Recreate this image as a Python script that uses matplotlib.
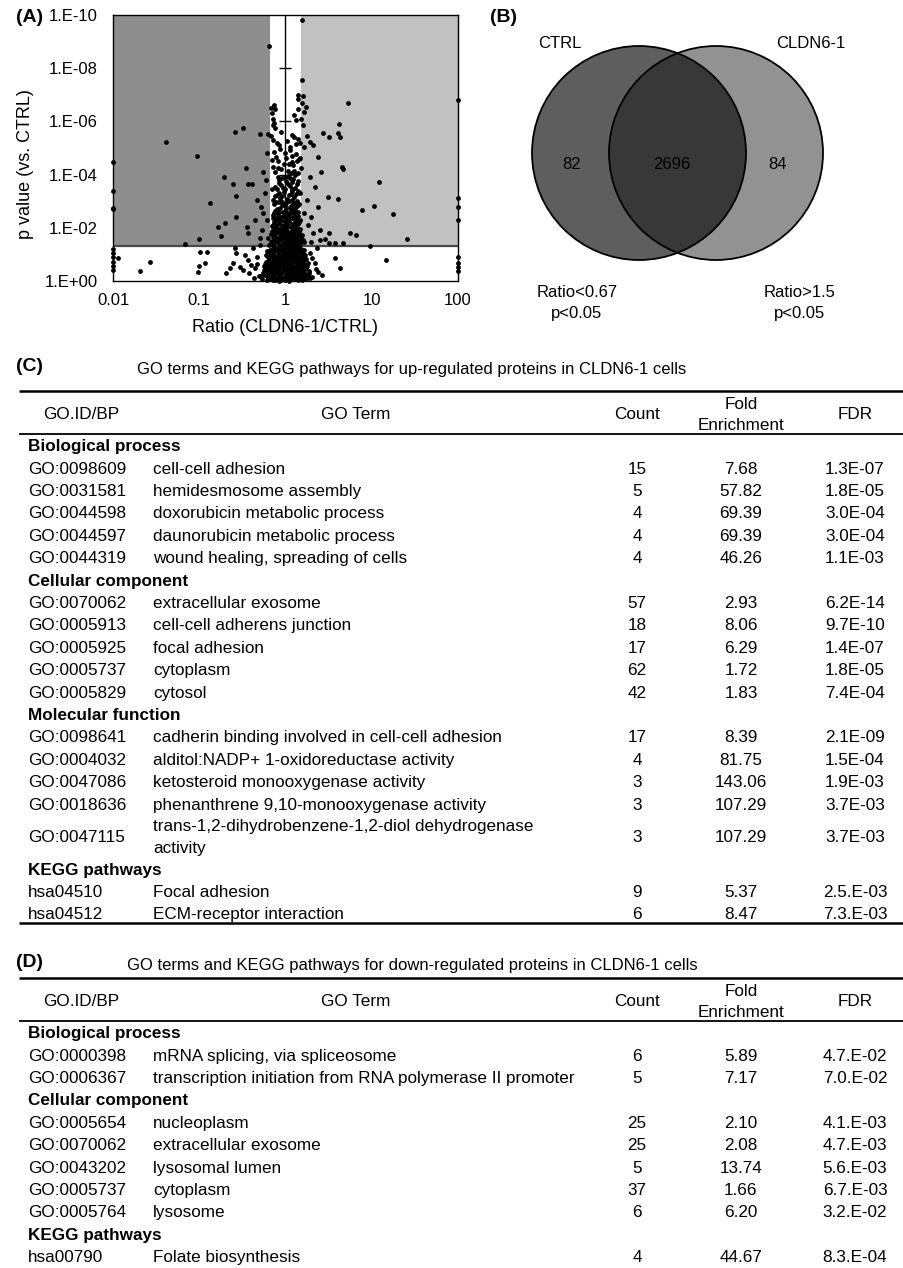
import numpy as np
import matplotlib
matplotlib.use('Agg')
import matplotlib.pyplot as plt
from matplotlib.patches import Circle
from matplotlib.ticker import NullLocator

plt.rcParams['font.family'] = ['Liberation Sans', 'DejaVu Sans']

# ---------------- Panel A data: (log10 ratio, -log10 p) ----------------
core_points = [
    (-0.27, 0.08), (-0.24, 0.21), (-0.22, 0.05), (-0.20, 0.33), (-0.18, 0.12), (-0.17, 0.45), (-0.15, 0.02),
    (-0.14, 0.27), (-0.12, 0.16), (-0.11, 0.52), (-0.09, 0.07), (-0.08, 0.38), (-0.06, 0.22), (-0.05, 0.61),
    (-0.03, 0.11), (-0.02, 0.44), (0.00, 0.03), (0.01, 0.29), (0.03, 0.14), (0.04, 0.56), (0.06, 0.06),
    (0.07, 0.35), (0.09, 0.19), (0.10, 0.48), (0.12, 0.09), (0.13, 0.31), (0.15, 0.02), (0.16, 0.41),
    (0.18, 0.17), (0.19, 0.58), (0.21, 0.07), (0.23, 0.26), (0.25, 0.13), (0.27, 0.37),
    (-0.25, 0.55), (-0.23, 0.72), (-0.21, 0.62), (-0.19, 0.88), (-0.16, 0.70), (-0.13, 0.83), (-0.10, 0.66),
    (-0.07, 0.92), (-0.04, 0.75), (-0.01, 0.86), (0.02, 0.68), (0.05, 0.95), (0.08, 0.73), (0.11, 0.84),
    (0.14, 0.63), (0.17, 0.90), (0.20, 0.76), (0.22, 0.64), (0.24, 0.81), (0.26, 0.69),
    (-0.20, 1.05), (-0.17, 1.18), (-0.14, 1.02), (-0.11, 1.25), (-0.08, 1.10), (-0.05, 1.21), (-0.02, 1.00),
    (0.01, 1.15), (0.04, 1.27), (0.07, 1.06), (0.10, 1.19), (0.13, 1.03), (0.16, 1.23), (0.19, 1.08),
    (0.21, 1.16), (-0.23, 0.97), (0.23, 0.99),
    (-0.26, 0.30), (-0.21, 0.18), (-0.16, 0.25), (-0.13, 0.40), (-0.10, 0.30), (-0.07, 0.15), (-0.04, 0.33),
    (-0.01, 0.20), (0.02, 0.50), (0.05, 0.25), (0.08, 0.12), (0.11, 0.28), (0.14, 0.45), (0.17, 0.10),
    (0.20, 0.35), (0.24, 0.47), (-0.18, 0.58), (-0.09, 0.50), (0.00, 0.60), (0.09, 0.58), (0.18, 0.50),
    (-0.14, 0.95), (-0.03, 0.97), (0.06, 0.82), (0.15, 0.78), (-0.06, 0.78), (0.12, 0.98), (-0.19, 0.40),
    (0.22, 0.40), (-0.08, 0.01), (0.04, 0.01), (0.13, 0.20), (-0.16, 0.10),
    (-0.25, 0.42), (-0.22, 0.30), (-0.19, 0.22), (-0.15, 0.36), (-0.12, 0.05), (-0.10, 0.43), (-0.07, 0.28),
    (-0.05, 0.04), (-0.03, 0.52), (0.00, 0.16), (0.02, 0.38), (0.05, 0.10), (0.07, 0.49), (0.10, 0.22),
    (0.12, 0.42), (0.14, 0.15), (0.16, 0.28), (0.19, 0.04), (0.21, 0.46), (0.23, 0.12), (0.26, 0.22),
    (-0.24, 0.65), (-0.20, 0.75), (-0.17, 0.84), (-0.15, 0.60), (-0.12, 0.72), (-0.09, 0.86), (-0.06, 0.64),
    (-0.03, 0.69), (0.00, 0.78), (0.03, 0.87), (0.06, 0.62), (0.09, 0.93), (0.12, 0.70), (0.15, 0.93),
    (0.18, 0.66), (0.21, 0.88), (0.25, 0.58), (-0.22, 1.12), (-0.18, 0.98), (-0.15, 1.12), (-0.12, 1.20),
    (-0.09, 0.99), (-0.06, 1.15), (-0.03, 1.26), (0.00, 1.07), (0.03, 1.05), (0.06, 1.20), (0.09, 1.03),
    (0.12, 1.26), (0.15, 1.10), (0.18, 1.22), (0.20, 0.97), (-0.28, 0.18), (0.28, 0.10), (-0.01, 0.40),
    (0.08, 0.33), (-0.11, 0.60), (0.17, 0.55), (-0.21, 0.50),
    (-0.22, 0.40), (-0.20, 0.12), (-0.18, 0.30), (-0.17, 0.65), (-0.14, 0.50), (-0.13, 0.10), (-0.11, 0.35),
    (-0.10, 0.80), (-0.08, 0.55), (-0.07, 0.45), (-0.05, 0.30), (-0.04, 0.10), (-0.02, 0.62), (-0.01, 0.05),
    (0.01, 0.50), (0.02, 0.22), (0.03, 0.75), (0.05, 0.42), (0.06, 0.18), (0.08, 0.62), (0.09, 0.40),
    (0.11, 0.12), (0.12, 0.55), (0.14, 0.32), (0.15, 0.70), (0.17, 0.25), (0.18, 0.40), (0.20, 0.15),
    (0.21, 0.60), (0.22, 0.28),
    (-0.20, 0.90), (-0.18, 1.15), (-0.16, 0.88), (-0.13, 1.08), (-0.11, 0.92), (-0.09, 1.18), (-0.07, 1.02),
    (-0.05, 0.88), (-0.03, 1.12), (-0.01, 0.95), (0.01, 1.22), (0.02, 0.92), (0.04, 1.10), (0.06, 0.98),
    (0.08, 1.15), (0.10, 0.90), (0.11, 1.08), (0.13, 1.18), (0.16, 1.02), (0.18, 0.88), (0.20, 1.12),
    (-0.19, 1.35), (-0.16, 1.52), (-0.13, 1.41), (-0.10, 1.63), (-0.07, 1.38), (-0.04, 1.55), (-0.01, 1.44),
    (0.02, 1.68), (0.05, 1.36), (0.08, 1.58), (0.11, 1.47), (0.14, 1.71), (0.17, 1.39), (0.20, 1.56),
    (-0.17, 1.78), (-0.14, 1.92), (-0.11, 1.84), (-0.08, 1.97), (-0.05, 1.75), (-0.02, 1.88), (0.01, 1.96),
    (0.04, 1.80), (0.07, 1.91), (0.10, 1.77), (0.13, 1.99), (0.16, 1.86), (0.19, 1.74), (-0.20, 1.62),
    (0.22, 1.45), (-0.06, 1.67), (0.03, 1.50), (0.12, 1.62), (-0.15, 1.66), (0.00, 1.30), (0.09, 1.33),
    (-0.17, 1.45), (-0.14, 1.30), (-0.12, 1.55), (-0.09, 1.45), (-0.06, 1.32), (-0.03, 1.64), (0.00, 1.52),
    (0.03, 1.38), (0.06, 1.60), (0.09, 1.45), (0.12, 1.35), (0.15, 1.55), (0.18, 1.64), (-0.16, 1.88),
    (-0.13, 1.74), (-0.10, 1.95), (-0.07, 1.81), (-0.04, 1.95), (-0.01, 1.78), (0.02, 1.88), (0.05, 1.72),
    (0.08, 1.85), (0.11, 1.93), (0.14, 1.82), (0.17, 1.95),
    (-0.15, 1.40), (-0.12, 1.70), (-0.09, 1.55), (-0.06, 1.85), (-0.03, 1.40), (-0.01, 1.62), (0.01, 1.82),
    (0.04, 1.58), (0.06, 1.48), (0.08, 1.72), (0.10, 1.60), (0.13, 1.50), (0.15, 1.90), (0.18, 1.50),
    (-0.16, 2.05), (-0.13, 2.21), (-0.10, 2.12), (-0.07, 2.34), (-0.04, 2.08), (-0.01, 2.27), (0.02, 2.16),
    (0.05, 2.39), (0.08, 2.03), (0.11, 2.25), (0.14, 2.14), (0.17, 2.31), (-0.15, 2.47), (-0.12, 2.62),
    (-0.09, 2.51), (-0.06, 2.74), (-0.03, 2.58), (0.00, 2.83), (0.03, 2.49), (0.06, 2.66), (0.09, 2.55),
    (0.12, 2.79), (0.15, 2.60), (-0.13, 2.90), (-0.08, 2.97), (-0.02, 2.92), (0.04, 2.99), (0.10, 2.93),
    (0.16, 2.88), (-0.05, 2.42), (0.07, 2.86), (0.13, 2.45), (-0.11, 2.37), (0.01, 2.70),
    (-0.14, 2.12), (-0.11, 2.28), (-0.08, 2.18), (-0.05, 2.30), (-0.02, 2.10), (0.01, 2.38), (0.04, 2.26),
    (0.07, 2.13), (0.10, 2.40), (0.13, 2.30), (0.16, 2.20), (-0.13, 2.55), (-0.10, 2.70), (-0.07, 2.60),
    (-0.04, 2.84), (-0.01, 2.64), (0.02, 2.57), (0.05, 2.80), (0.08, 2.71), (0.11, 2.62), (0.14, 2.87),
    (-0.11, 2.98), (-0.05, 3.02), (0.01, 2.95), (0.07, 3.05), (0.13, 3.00),
    (-0.12, 2.02), (-0.09, 2.35), (-0.06, 2.20), (-0.03, 2.45), (0.00, 2.25), (0.03, 2.05), (0.05, 2.55),
    (0.08, 2.35), (0.11, 2.10), (0.12, 2.50), (-0.14, 2.35), (0.15, 2.45),
    (-0.14, 3.05), (-0.10, 3.22), (-0.06, 3.11), (-0.02, 3.35), (0.02, 3.08), (0.06, 3.28), (0.10, 3.15),
    (0.14, 3.40), (-0.12, 3.55), (-0.07, 3.68), (-0.03, 3.49), (0.01, 3.75), (0.05, 3.58), (0.09, 3.82),
    (0.13, 3.63), (-0.09, 3.91), (0.03, 3.96), (0.11, 3.98), (-0.04, 3.86), (0.17, 3.30), (-0.16, 3.45),
    (0.07, 3.44),
    (-0.12, 3.18), (-0.08, 3.32), (-0.04, 3.20), (0.00, 3.45), (0.04, 3.22), (0.08, 3.38), (0.12, 3.26),
    (-0.10, 3.45), (-0.05, 3.60), (0.03, 3.66), (0.07, 3.72), (0.11, 3.50), (-0.01, 3.92), (0.05, 3.88),
    (-0.07, 3.78), (0.15, 3.75),
    (-0.12, 4.08), (-0.05, 4.22), (0.03, 4.12), (0.09, 4.35), (0.14, 4.05), (-0.09, 4.50), (0.01, 4.62),
    (0.07, 4.48), (0.12, 4.77), (-0.13, 4.85), (0.05, 4.92), (0.16, 4.60), (-0.02, 4.40), (0.18, 4.25),
    (-0.15, 4.30),
    (-0.16, 4.55), (-0.11, 4.68), (-0.06, 4.95), (0.00, 4.80), (0.04, 4.38), (0.10, 4.15), (0.13, 4.50),
    (0.08, 4.70), (-0.08, 5.10), (0.02, 5.25), (0.10, 5.40), (0.17, 5.20), (-0.15, 5.85), (-0.13, 5.95),
    (0.18, 6.10), (0.14, 6.45), (0.20, 6.95), (-0.17, 6.50), (-0.09, 4.25), (0.06, 4.05),
    (-0.15, 6.55), (-0.13, 6.62), (-0.12, 6.45), (-0.16, 6.30), (-0.14, 6.10), (-0.12, 5.75), (-0.17, 5.45),
    (-0.10, 5.20), (0.14, 7.00), (0.15, 6.85), (0.19, 6.70), (0.24, 6.55), (0.22, 6.35), (0.10, 6.25),
    (0.12, 6.05), (0.20, 5.85), (0.08, 5.50), (0.15, 5.35), (0.25, 5.45), (0.12, 5.15), (0.05, 5.05),
    (0.22, 5.05), (-0.05, 5.60), (0.19, 9.81), (-0.19, 8.83), (0.19, 7.56),
]

outlier_points = [
    (-0.49, 5.76), (-0.59, 5.59), (-0.30, 5.53), (-0.20, 5.51), (-1.38, 5.24), (-1.03, 4.71),
    (0.62, 5.90), (0.61, 5.58), (0.63, 5.40), (0.43, 5.55), (0.50, 5.43), (0.28, 5.24), (0.32, 5.11),
    (0.38, 4.67), (0.65, 4.30), (0.67, 4.20), (0.41, 4.09), (1.08, 3.73), (1.03, 2.83), (0.89, 2.67),
    (1.25, 2.51), (1.41, 1.58), (1.17, 0.79), (0.98, 1.32), (0.82, 1.73), (0.61, 3.08), (0.49, 3.17),
    (0.50, 1.42), (0.57, 0.85), (0.63, 0.50), (-0.87, 2.92), (-0.71, 3.92), (-0.61, 3.63), (-0.57, 3.20),
    (-0.57, 2.42), (-0.43, 3.65), (-0.39, 3.63), (-0.46, 4.24), (-0.70, 2.17), (-0.78, 2.04), (-0.75, 1.70),
    (-1.00, 1.57), (-1.17, 1.38), (-0.99, 1.10), (-0.91, 1.08), (-1.00, 0.58), (-0.93, 0.66), (-1.01, 0.35),
    (-1.57, 0.73), (-1.69, 0.39), (-1.94, 0.85),
    (-2.0, 4.49), (-2.0, 3.40), (-2.0, 2.73), (-2.0, 2.69), (-2.0, 1.19), (-2.0, 1.04), (-2.0, 0.89),
    (-2.0, 0.73), (-2.0, 0.56), (-2.0, 0.41),
    (2.0, 6.80), (2.0, 3.13), (2.0, 2.79), (2.0, 2.29), (2.0, 0.91), (2.0, 0.66), (2.0, 0.54), (2.0, 0.39),
    (0.73, 6.70),
    (-0.69, 0.29), (-0.64, 0.48), (-0.61, 0.66), (-0.53, 0.54), (-0.49, 0.41), (-0.57, 1.04), (-0.59, 1.23),
    (-0.47, 0.98), (-0.44, 0.79), (-0.40, 0.60), (-0.35, 0.48), (-0.33, 0.91), (-0.38, 1.23), (-0.30, 1.35),
    (-0.43, 1.79), (-0.45, 2.04), (-0.35, 2.29), (-0.26, 2.54), (-0.28, 2.79), (-0.33, 3.05), (-0.24, 3.30),
    (-0.23, 3.80), (-0.26, 4.11), (-0.22, 4.80), (-0.14, 5.30),
    (0.28, 1.04), (0.34, 0.66), (0.40, 1.54), (0.36, 1.23), (0.46, 1.57), (0.32, 1.79), (0.30, 2.42),
    (0.38, 2.79), (0.25, 3.05), (0.34, 3.55), (0.28, 3.92), (0.40, 1.92), (0.27, 0.29), (0.38, 0.35),
    (0.17, 4.61), (0.57, 1.42), (0.67, 1.42), (0.75, 1.79), (0.50, 1.79),
    (-0.31, 0.20), (-0.36, 0.12), (-0.42, 0.30), (-0.33, 0.65), (0.31, 0.15), (0.35, 0.45), (0.42, 0.22),
    (0.31, 0.85), (-0.30, 1.60), (0.29, 1.45), (-0.27, 1.90), (0.26, 2.10), (-0.21, 2.30), (0.21, 2.55),
]

ratio_low, ratio_high, p_cut = 0.67, 1.5, 0.05
x_ticks = [0.01, 0.1, 1, 10, 100]
x_tick_labels = ['0.01', '0.1', '1', '10', '100']
y_ticks = [1, 1e-2, 1e-4, 1e-6, 1e-8, 1e-10]
y_tick_labels = ['1.E+00', '1.E-02', '1.E-04', '1.E-06', '1.E-08', '1.E-10']

# ---------------- Panel B data ----------------
venn_left_only, venn_both, venn_right_only = 82, 2696, 84

# ---------------- Table C data ----------------
c_sections = [('Biological process', 5), ('Cellular component', 5), ('Molecular function', 5), ('KEGG pathways', 2)]
c_ids = ['GO:0098609', 'GO:0031581', 'GO:0044598', 'GO:0044597', 'GO:0044319',
         'GO:0070062', 'GO:0005913', 'GO:0005925', 'GO:0005737', 'GO:0005829',
         'GO:0098641', 'GO:0004032', 'GO:0047086', 'GO:0018636', 'GO:0047115',
         'hsa04510', 'hsa04512']
c_terms = ['cell-cell adhesion', 'hemidesmosome assembly', 'doxorubicin metabolic process',
           'daunorubicin metabolic process', 'wound healing, spreading of cells',
           'extracellular exosome', 'cell-cell adherens junction', 'focal adhesion', 'cytoplasm', 'cytosol',
           'cadherin binding involved in cell-cell adhesion', 'alditol:NADP+ 1-oxidoreductase activity',
           'ketosteroid monooxygenase activity', 'phenanthrene 9,10-monooxygenase activity',
           'trans-1,2-dihydrobenzene-1,2-diol dehydrogenase\nactivity',
           'Focal adhesion', 'ECM-receptor interaction']
c_counts = [15, 5, 4, 4, 4, 57, 18, 17, 62, 42, 17, 4, 3, 3, 3, 9, 6]
c_folds = [7.68, 57.82, 69.39, 69.39, 46.26, 2.93, 8.06, 6.29, 1.72, 1.83,
           8.39, 81.75, 143.06, 107.29, 107.29, 5.37, 8.47]
c_fdrs = ['1.3E-07', '1.8E-05', '3.0E-04', '3.0E-04', '1.1E-03', '6.2E-14', '9.7E-10', '1.4E-07',
          '1.8E-05', '7.4E-04', '2.1E-09', '1.5E-04', '1.9E-03', '3.7E-03', '3.7E-03', '2.5.E-03', '7.3.E-03']

# ---------------- Table D data ----------------
d_sections = [('Biological process', 2), ('Cellular component', 5), ('KEGG pathways', 1)]
d_ids = ['GO:0000398', 'GO:0006367', 'GO:0005654', 'GO:0070062', 'GO:0043202', 'GO:0005737',
         'GO:0005764', 'hsa00790']
d_terms = ['mRNA splicing, via spliceosome', 'transcription initiation from RNA polymerase II promoter',
           'nucleoplasm', 'extracellular exosome', 'lysosomal lumen', 'cytoplasm', 'lysosome',
           'Folate biosynthesis']
d_counts = [6, 5, 25, 25, 5, 37, 6, 4]
d_folds = [5.89, 7.17, 2.10, 2.08, 13.74, 1.66, 6.20, 44.67]
d_fdrs = ['4.7.E-02', '7.0.E-02', '4.1.E-03', '4.7.E-03', '5.6.E-03', '6.7.E-03', '3.2.E-02', '8.3.E-04']

# =====================================================================
W, H = 904, 1268
fig = plt.figure(figsize=(W / 100, H / 100), dpi=100)


def rect(x0, y0, x1, y1):
    return [x0 / W, 1 - y1 / H, (x1 - x0) / W, (y1 - y0) / H]


# ---------------- Panel A ----------------
ax = fig.add_axes(rect(113, 15, 458, 281))
pts = np.array(core_points + outlier_points)
ratio = 10 ** pts[:, 0]
pval = 10 ** (-pts[:, 1])
ax.set_xscale('log')
ax.set_yscale('log')
ax.set_xlim(0.01, 100)
ax.set_ylim(1, 1e-10)
ax.fill_between([0.01, ratio_low], [p_cut, p_cut], [1e-10, 1e-10], color='#8e8e8e', lw=0, zorder=0)
ax.fill_between([ratio_high, 100], [p_cut, p_cut], [1e-10, 1e-10], color='#c1c1c1', lw=0, zorder=0)
ax.axhline(p_cut, color='#4a4a4a', lw=1.6, zorder=1)
ax.axvline(1, color='black', lw=1.0, zorder=1)
ax.plot([1, 1, 1, 1], [1e-8, 1e-6, 1e-4, 1e-2], ls='none', marker='_', ms=9, mew=1.0, color='black', zorder=1)
ax.scatter(ratio, pval, s=12, c='black', lw=0, zorder=3, clip_on=False)
ax.set_xticks(x_ticks)
ax.set_xticklabels(x_tick_labels)
ax.set_yticks(y_ticks)
ax.set_yticklabels(y_tick_labels)
ax.xaxis.set_minor_locator(NullLocator())
ax.yaxis.set_minor_locator(NullLocator())
ax.tick_params(axis='both', length=0, labelsize=12)
ax.tick_params(axis='y', pad=11)
ax.tick_params(axis='x', pad=9)
for s in ax.spines.values():
    s.set_linewidth(1.0)
    s.set_color('black')

# ---------------- overlay (pixel coordinates) ----------------
ov = fig.add_axes([0, 0, 1, 1])
ov.set_xlim(0, W)
ov.set_ylim(H, 0)
ov.axis('off')


def put(x, yc, s, size=12.3, ha='left', weight='normal'):
    ov.text(x, yc + 0.36 * size * 100 / 72, s, fontsize=size, ha=ha, va='baseline', fontweight=weight)


put(16, 15, '(A)', size=14, weight='bold')
put(285, 325, 'Ratio (CLDN6-1/CTRL)', size=13, ha='center')
ov.text(26, 164, 'p value (vs. CTRL)', fontsize=13, rotation=90, ha='center', va='center')

# ---------------- Panel B (Venn) ----------------
put(490, 15, '(B)', size=14, weight='bold')
r = 107
cl, cr, cy = 639, 716, 153
left = Circle((cl, cy), r, facecolor='#5e5e5e', edgecolor='none')
right = Circle((cr, cy), r, facecolor='#929292', edgecolor='none')
ov.add_patch(left)
ov.add_patch(right)
lens = Circle((cr, cy), r, facecolor='#383838', edgecolor='none')
ov.add_patch(lens)
lens.set_clip_path(left)
ov.add_patch(Circle((cl, cy), r, fill=False, edgecolor='black', lw=1.3))
ov.add_patch(Circle((cr, cy), r, fill=False, edgecolor='black', lw=1.3))
put(560, 42, 'CTRL', size=12, ha='center')
put(811, 42, 'CLDN6-1', size=12, ha='center')
put(572, 163, str(venn_left_only), size=12, ha='center')
put(672, 163, str(venn_both), size=12, ha='center')
put(778, 163, str(venn_right_only), size=12, ha='center')
put(577, 291, 'Ratio<0.67', size=12, ha='center')
put(577, 312, 'p<0.05', size=12, ha='center')
put(800, 291, 'Ratio>1.5', size=12, ha='center')
put(800, 312, 'p<0.05', size=12, ha='center')

# ---------------- Tables ----------------
X_ID, X_TERM, X_COUNT, X_FOLD, X_FDR = 28, 153, 637, 741, 855
LINE_X0, LINE_X1 = 19, 904


def draw_table(label, title, y_label, y_top, sections, ids, terms, counts, folds, fdrs, step):
    put(16, y_label, label, size=14, weight='bold')
    put(412, y_label + 4, title, size=12, ha='center')
    ov.plot([LINE_X0, LINE_X1], [y_top, y_top], color='black', lw=1.8, solid_capstyle='butt')
    yh = y_top + 22
    put(81, yh, 'GO.ID/BP', ha='center')
    put(356, yh, 'GO Term', ha='center')
    put(X_COUNT, yh, 'Count', ha='center')
    put(X_FOLD, yh - 10.5, 'Fold', ha='center')
    put(X_FOLD, yh + 10.5, 'Enrichment', ha='center')
    put(X_FDR, yh, 'FDR', ha='center')
    y_hl = y_top + 43
    ov.plot([LINE_X0, LINE_X1], [y_hl, y_hl], color='black', lw=1.3, solid_capstyle='butt')
    y = y_hl + 11
    i = 0
    for name, n in sections:
        put(X_ID, y, name, weight='bold')
        prev_h = step
        for _ in range(n):
            lines = terms[i].split('\n')
            h = step if len(lines) == 1 else step * 1.9
            y = y + (prev_h + h) / 2
            put(X_ID, y, ids[i])
            if len(lines) == 1:
                put(X_TERM, y, lines[0])
            else:
                put(X_TERM, y - 11, lines[0])
                put(X_TERM, y + 11, lines[1])
            put(X_COUNT, y, str(counts[i]), ha='center')
            put(X_FOLD, y, f'{folds[i]:.2f}', ha='center')
            put(X_FDR, y, fdrs[i], ha='center')
            prev_h = h
            i += 1
        y = y + (prev_h + step) / 2
    return y


y_end = draw_table('(C)', 'GO terms and KEGG pathways for up-regulated proteins in CLDN6-1 cells',
                   364, 391, c_sections, c_ids, c_terms, c_counts, c_folds, c_fdrs, 22.4)
y_bot = y_end - 22.4 + 10
ov.plot([LINE_X0, LINE_X1], [y_bot, y_bot], color='black', lw=1.8, solid_capstyle='butt')

draw_table('(D)', 'GO terms and KEGG pathways for down-regulated proteins in CLDN6-1 cells',
           960, 978, d_sections, d_ids, d_terms, d_counts, d_folds, d_fdrs, 22.4)

fig.savefig('out.png', dpi=100)
